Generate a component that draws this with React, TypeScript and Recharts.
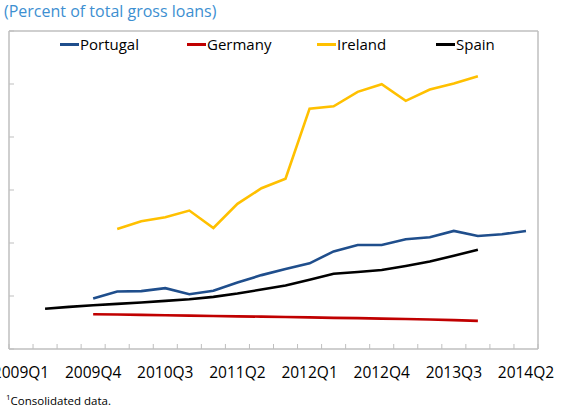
import React from 'react';
import { LineChart, Line, XAxis, YAxis } from 'recharts';

const quarters = [
  '2009Q1', '2009Q2', '2009Q3', '2009Q4',
  '2010Q1', '2010Q2', '2010Q3', '2010Q4',
  '2011Q1', '2011Q2', '2011Q3', '2011Q4',
  '2012Q1', '2012Q2', '2012Q3', '2012Q4',
  '2013Q1', '2013Q2', '2013Q3', '2013Q4',
  '2014Q1', '2014Q2',
];

const portugal = [null, null, null, 4.76, 5.43, 5.46, 5.74, 5.17, 5.49, 6.28, 6.97, 7.54, 8.08, 9.21, 9.81, 9.81, 10.35, 10.54, 11.14, 10.66, 10.82, 11.14];
const germany = [null, null, null, 3.28, 3.25, 3.22, 3.19, 3.15, 3.11, 3.08, 3.05, 3.02, 2.98, 2.94, 2.91, 2.87, 2.83, 2.78, 2.72, 2.65, null, null];
const ireland = [null, null, null, null, 11.33, 12.05, 12.43, 13.06, 11.42, 13.69, 15.17, 16.06, 22.68, 22.9, 24.26, 24.98, 23.41, 24.48, 25.05, 25.74, null, null];
const spain = [null, 3.79, 3.97, 4.13, 4.26, 4.38, 4.54, 4.7, 4.92, 5.23, 5.61, 5.99, 6.53, 7.1, 7.26, 7.45, 7.83, 8.26, 8.8, 9.37, null, null];

const labelTicks = ['2009Q1', '2009Q4', '2010Q3', '2011Q2', '2012Q1', '2012Q4', '2013Q3', '2014Q2'];
const yTicks = [0, 5, 10, 15, 20, 25, 30];

const series = [
  { key: 'portugal', name: 'Portugal', color: '#1f4e8c' },
  { key: 'germany', name: 'Germany', color: '#c00000' },
  { key: 'ireland', name: 'Ireland', color: '#ffc000' },
  { key: 'spain', name: 'Spain', color: '#000000' },
];

const rows = quarters.map((q, i) => ({
  x: i + 0.5,
  label: q,
  portugal: portugal[i],
  germany: germany[i],
  ireland: ireland[i],
  spain: spain[i],
}));

const boundaryTicks = quarters.map((_, i) => i).concat([quarters.length]);
const labelTickPos = labelTicks.map((l) => quarters.indexOf(l) + 0.5);

const FONT = '"Open Sans", "Noto Sans", sans-serif';
const BORDER = '#bfbfbf';
const Empty = () => <g />;

const legendX = [60, 187, 317, 436];

export default function App() {
  return (
    <div style={{ position: 'absolute', left: 0, top: 0, width: 566, height: 409, background: '#fff', fontFamily: FONT }}>
      <div style={{ position: 'absolute', left: 4, top: 0, fontSize: 16, color: '#3d8fd1', whiteSpace: 'nowrap', lineHeight: '22px' }}>
        (Percent of total gross loans)
      </div>
      <LineChart width={566} height={409} data={rows} margin={{ top: 30, right: 27, bottom: 59, left: 9 }}>
        <XAxis
          xAxisId="main"
          type="number"
          dataKey="x"
          domain={[0, 22]}
          ticks={boundaryTicks}
          tick={Empty}
          mirror
          tickSize={5}
          height={1}
          axisLine={{ stroke: BORDER, strokeWidth: 1.5 }}
          tickLine={{ stroke: BORDER }}
          allowDataOverflow
        />
        <XAxis
          xAxisId="lab"
          type="number"
          dataKey="x"
          domain={[0, 22]}
          ticks={labelTickPos}
          tickFormatter={(v: number) => quarters[Math.floor(v)]}
          tick={{ fill: '#000', fontSize: 15.5, fontFamily: FONT }}
          tickLine={false}
          axisLine={false}
          tickSize={0}
          tickMargin={18}
          height={1}
          interval={0}
          allowDataOverflow
        />
        <XAxis
          xAxisId="top"
          orientation="top"
          type="number"
          dataKey="x"
          domain={[0, 22]}
          tick={false}
          tickLine={false}
          height={1}
          axisLine={{ stroke: BORDER, strokeWidth: 1.5 }}
          allowDataOverflow
        />
        <YAxis
          yAxisId="left"
          type="number"
          domain={[0, 30]}
          ticks={yTicks}
          tick={Empty}
          mirror
          tickSize={5}
          width={1}
          axisLine={{ stroke: BORDER, strokeWidth: 1.5 }}
          tickLine={{ stroke: BORDER }}
          allowDataOverflow
        />
        <YAxis
          yAxisId="right"
          orientation="right"
          type="number"
          domain={[0, 30]}
          tick={false}
          tickLine={false}
          width={1}
          axisLine={{ stroke: BORDER, strokeWidth: 1.5 }}
          allowDataOverflow
        />
        {series.map((s) => (
          <Line
            key={s.key}
            xAxisId="main"
            yAxisId="left"
            type="linear"
            dataKey={s.key}
            name={s.name}
            stroke={s.color}
            strokeWidth={2.6}
            dot={false}
            activeDot={false}
            isAnimationActive={false}
          />
        ))}
      </LineChart>
      {series.map((s, i) => (
        <div key={s.key} style={{ position: 'absolute', left: legendX[i], top: 33, height: 22, display: 'flex', alignItems: 'center', whiteSpace: 'nowrap' }}>
          <span style={{ display: 'inline-block', width: 19, height: 3, background: s.color }} />
          <span style={{ fontSize: 15, color: '#000', marginLeft: 1 }}>{s.name}</span>
        </div>
      ))}
      <div style={{ position: 'absolute', left: 6, top: 391, fontSize: 11.5, color: '#000', whiteSpace: 'nowrap' }}>
        <sup style={{ fontSize: 8 }}>1</sup>Consolidated data.
      </div>
    </div>
  );
}
